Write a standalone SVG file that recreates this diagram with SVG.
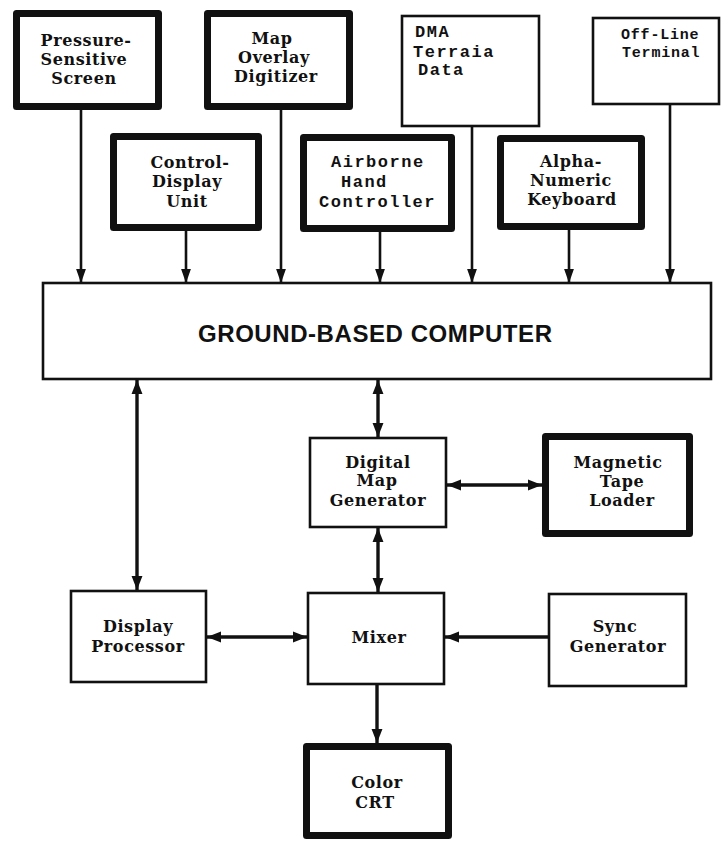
<svg xmlns="http://www.w3.org/2000/svg" width="723" height="841" viewBox="0 0 723 841">
<style>
.thick{fill:#fff;stroke:#111;stroke-width:7;stroke-linejoin:round}
.thin{fill:#fff;stroke:#111;stroke-width:2.6}
.sf{font-family:"DejaVu Serif","Liberation Serif",serif;font-weight:bold;font-size:16px;letter-spacing:0.6px;fill:#111;text-anchor:middle}
.mono{font-family:"Liberation Mono","DejaVu Sans Mono",monospace;font-weight:bold;font-size:17px;letter-spacing:1.5px;fill:#111}
.mono2{font-family:"Liberation Mono","DejaVu Sans Mono",monospace;font-weight:bold;font-size:15px;letter-spacing:0.8px;fill:#111}
.big{font-family:"Liberation Sans",Arial,sans-serif;font-weight:bold;font-size:24px;fill:#111;text-anchor:middle}
.ln{stroke:#111;stroke-width:2.6;fill:none}
.bl{stroke:#111;stroke-width:3.4;fill:none}
</style>
<defs>
<marker id="ah" markerUnits="userSpaceOnUse" markerWidth="14" markerHeight="20" viewBox="0 0 20 14" refX="20" refY="7" orient="auto-start-reverse">
<path d="M0,0 L20,7 L0,14 Z" fill="#111"/>
</marker>
<marker id="ab" markerUnits="userSpaceOnUse" markerWidth="14" markerHeight="18" viewBox="0 0 18 14" refX="18" refY="7" orient="auto-start-reverse">
<path d="M0,0 L18,7 L0,14 Z" fill="#111"/>
</marker>
</defs>
<rect width="723" height="841" fill="#fff"/>
<g id="connectors">
<line class="ln" x1="81" y1="110" x2="81" y2="283" marker-end="url(#ah)"/>
<line class="ln" x1="186" y1="231" x2="186" y2="283" marker-end="url(#ah)"/>
<line class="ln" x1="281" y1="110" x2="281" y2="283" marker-end="url(#ah)"/>
<line class="ln" x1="380" y1="232" x2="380" y2="283" marker-end="url(#ah)"/>
<line class="ln" x1="472" y1="127" x2="472" y2="283" marker-end="url(#ah)"/>
<line class="ln" x1="569" y1="230" x2="569" y2="283" marker-end="url(#ah)"/>
<line class="ln" x1="670" y1="105" x2="670" y2="283" marker-end="url(#ah)"/>
<line class="bl" x1="137" y1="380" x2="137" y2="590" marker-start="url(#ab)" marker-end="url(#ab)"/>
<line class="bl" x1="378" y1="380" x2="378" y2="437" marker-start="url(#ab)" marker-end="url(#ab)"/>
<line class="bl" x1="378" y1="528" x2="378" y2="592" marker-start="url(#ab)" marker-end="url(#ab)"/>
<line class="bl" x1="447" y1="485" x2="542" y2="485" marker-start="url(#ab)" marker-end="url(#ab)"/>
<line class="bl" x1="207" y1="637" x2="307" y2="637" marker-start="url(#ab)" marker-end="url(#ab)"/>
<line class="bl" x1="548" y1="637" x2="445" y2="637" marker-end="url(#ab)"/>
<line class="bl" x1="377" y1="685" x2="377" y2="743" marker-end="url(#ab)"/>
</g>
<g id="pressure-sensitive-screen">
<rect class="thick" x="16.5" y="13.5" width="142" height="93"/>
<text class="sf" x="86" y="46">Pressure-</text>
<text class="sf" x="84" y="65">Sensitive</text>
<text class="sf" x="84" y="84">Screen</text>
</g>
<g id="map-overlay-digitizer">
<rect class="thick" x="207.5" y="13.5" width="142" height="93"/>
<text class="sf" x="272" y="44">Map</text>
<text class="sf" x="274" y="63">Overlay</text>
<text class="sf" x="276" y="82">Digitizer</text>
</g>
<g id="dma-terrain-data">
<rect class="thin" x="402" y="16" width="137" height="110"/>
<text class="mono" x="415" y="37">DMA</text>
<text class="mono" x="413" y="57">Terraia</text>
<text class="mono" x="418" y="75">Data</text>
</g>
<g id="off-line-terminal">
<rect class="thin" x="593" y="18" width="126" height="86"/>
<text class="mono2" x="621" y="39">Off-Line</text>
<text class="mono2" x="622" y="57">Terminal</text>
</g>
<g id="control-display-unit">
<rect class="thick" x="113.5" y="136.5" width="145" height="91"/>
<text class="sf" x="190" y="168">Control-</text>
<text class="sf" x="187" y="187">Display</text>
<text class="sf" x="187" y="207">Unit</text>
</g>
<g id="airborne-hand-controller">
<rect class="thick" x="303.5" y="137.5" width="148" height="91"/>
<text class="mono" x="331" y="167">Airborne</text>
<text class="mono" x="341" y="187">Hand</text>
<text class="mono" x="319" y="207">Controller</text>
</g>
<g id="alpha-numeric-keyboard">
<rect class="thick" x="500.5" y="138.5" width="141" height="88"/>
<text class="sf" x="571" y="167">Alpha-</text>
<text class="sf" x="571" y="186">Numeric</text>
<text class="sf" x="572" y="205">Keyboard</text>
</g>
<g id="ground-based-computer">
<rect class="thin" x="43" y="283" width="668" height="96"/>
<text class="big" x="375" y="342" textLength="354">GROUND-BASED COMPUTER</text>
</g>
<g id="digital-map-generator">
<rect class="thin" x="310" y="438" width="136" height="89"/>
<text class="sf" x="378" y="468">Digital</text>
<text class="sf" x="377" y="486">Map</text>
<text class="sf" x="378" y="506">Generator</text>
</g>
<g id="magnetic-tape-loader">
<rect class="thick" x="545.5" y="436.5" width="144" height="97"/>
<text class="sf" x="618" y="468">Magnetic</text>
<text class="sf" x="622" y="487">Tape</text>
<text class="sf" x="622" y="506">Loader</text>
</g>
<g id="display-processor">
<rect class="thin" x="71" y="591" width="135" height="91"/>
<text class="sf" x="138" y="632">Display</text>
<text class="sf" x="138" y="652">Processor</text>
</g>
<g id="mixer">
<rect class="thin" x="308" y="593" width="136" height="91"/>
<text class="sf" x="379" y="643">Mixer</text>
</g>
<g id="sync-generator">
<rect class="thin" x="549" y="594" width="137" height="92"/>
<text class="sf" x="615" y="632">Sync</text>
<text class="sf" x="618" y="652">Generator</text>
</g>
<g id="color-crt">
<rect class="thick" x="306.5" y="746.5" width="142" height="89"/>
<text class="sf" x="377" y="788">Color</text>
<text class="sf" x="375" y="808">CRT</text>
</g>
</svg>
